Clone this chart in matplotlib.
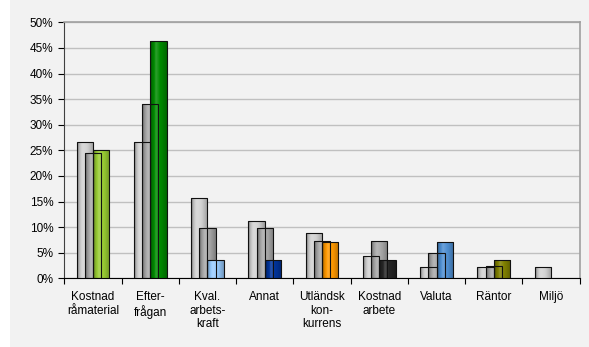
import numpy as np
import matplotlib
matplotlib.use("Agg")
import matplotlib.pyplot as plt
from matplotlib.colors import to_rgb
from matplotlib.patches import Rectangle

categories = ["Kostnad\nråmaterial", "Efter-\nfrågan", "Kval.\narbets-\nkraft", "Annat",
              "Utländsk\nkon-\nkurrens", "Kostnad\narbete", "Valuta", "Räntor", "Miljö"]
serie1 = [26.7, 26.7, 15.6, 11.1, 8.9, 4.4, 2.2, 2.2, 2.2]
serie2 = [24.4, 34.1, 9.8, 9.8, 7.3, 7.3, 4.9, 2.4, 0.0]
serie3 = [25.0, 46.4, 3.6, 3.6, 7.1, 3.6, 7.1, 3.6, 0.0]
yticks = [0, 5, 10, 15, 20, 25, 30, 35, 40, 45, 50]

col1 = "#d2d2d2"
col2 = "#a8a8a8"
col3 = ["#99cc33", "#008a00", "#99ccff", "#003399", "#ff9900", "#262626", "#4f8fd2", "#808000", "#808080"]

plt.rcParams['font.family'] = ['Liberation Sans', 'DejaVu Sans']

fig = plt.figure(figsize=(5.89, 3.47), dpi=100, facecolor="#f2f2f2")
# white strip at the left edge
fig.patches.append(Rectangle((0, 0), 10 / 589, 1, transform=fig.transFigure,
                             facecolor="white", edgecolor="none", zorder=0))
ax = fig.add_axes([64.3 / 589, 1 - 278.3 / 347, (579.7 - 64.3) / 589, 256 / 347])
ax.set_facecolor("#f2f2f2")


def shade(color):
    # cylinder-like horizontal gradient: dark left edge, light highlight, darker right
    c = np.array(to_rgb(color))
    t = np.linspace(0, 1, 40)
    f = np.interp(t, [0, 0.12, 0.35, 0.7, 1.0], [0.55, 0.85, 1.12, 0.95, 0.75])
    rows = []
    for v in f:
        if v <= 1:
            rows.append(c * v)
        else:
            rows.append(c + (1 - c) * (v - 1) * 1.5)
    return np.clip(np.array(rows), 0, 1)[None, :, :]


x = np.arange(len(categories))
w = 0.286
step = 0.143
for vals, off, cols in [(serie1, -step, [col1] * 9), (serie2, 0, [col2] * 9), (serie3, step, col3)]:
    bars = ax.bar(x + off, vals, w, color=cols, edgecolor="#111111", linewidth=0.8, zorder=3)
    for b, c in zip(bars, cols):
        if b.get_height() <= 0:
            b.set_visible(False)
            continue
        im = ax.imshow(shade(c), extent=[b.get_x(), b.get_x() + b.get_width(), 0, b.get_height()],
                       aspect="auto", zorder=3, interpolation="bilinear")
        im.set_clip_path(b)
        b.set_facecolor("none")
        b.set_zorder(3.1)

ax.set_xlim(-0.5, len(categories) - 0.5)
ax.set_ylim(0, 50)
ax.set_yticks(yticks)
ax.set_yticklabels([f"{v}%" for v in yticks])
ax.yaxis.grid(True, color="#c0c0c0", linewidth=1.0, zorder=0)
ax.set_axisbelow(True)

ax.set_xticks(x)
ax.set_xticklabels(categories, linespacing=1.2)
ax.set_xticks(np.arange(len(categories) + 1) - 0.5, minor=True)
ax.tick_params(axis="x", which="major", length=0, pad=9, labelsize=8.5, colors="black")
ax.tick_params(axis="x", which="minor", length=4, width=0.8, direction="out", color="black")
ax.tick_params(axis="y", length=4, width=0.8, pad=4, labelsize=8.5, color="black")

for s in ["top", "right"]:
    ax.spines[s].set_color("#a0a0a0")
    ax.spines[s].set_linewidth(1.2)
ax.spines["left"].set_color("#404040")
ax.spines["bottom"].set_color("black")
ax.spines["left"].set_linewidth(0.8)
ax.spines["bottom"].set_linewidth(0.8)

fig.savefig("out.png", dpi=100, facecolor=fig.get_facecolor())
